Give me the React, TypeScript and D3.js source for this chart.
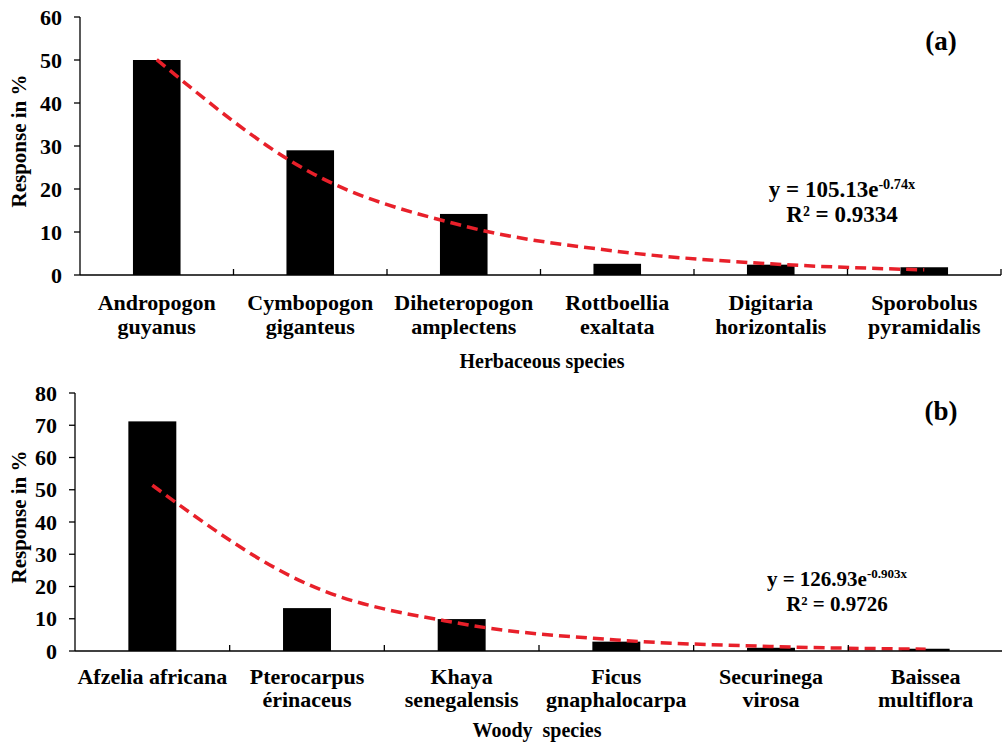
import * as d3 from 'd3';

// data — panel (a)
const herbCategories = [
  ['Andropogon', 'guyanus'],
  ['Cymbopogon', 'giganteus'],
  ['Diheteropogon', 'amplectens'],
  ['Rottboellia', 'exaltata'],
  ['Digitaria', 'horizontalis'],
  ['Sporobolus', 'pyramidalis'],
];
const herbValues = [50, 29, 14.2, 2.6, 2.4, 1.8];
const herbTrend = [50.1, 23.9, 11.4, 5.5, 2.6, 1.2];
const herbTicks = [0, 10, 20, 30, 40, 50, 60];

// data — panel (b)
const woodyCategories = [
  ['Afzelia africana'],
  ['Pterocarpus', 'érinaceus'],
  ['Khaya', 'senegalensis'],
  ['Ficus', 'gnaphalocarpa'],
  ['Securinega', 'virosa'],
  ['Baissea', 'multiflora'],
];
const woodyValues = [71.2, 13.3, 9.9, 2.9, 1.0, 0.7];
const woodyTrend = [51.4, 20.8, 8.45, 3.43, 1.39, 0.56];
const woodyTicks = [0, 10, 20, 30, 40, 50, 60, 70, 80];

const FONT = '"Liberation Serif", "Times New Roman", serif';

interface PanelProps {
  categories: string[][];
  values: number[];
  trend: number[];
  ticks: number[];
  x0: number;
  x1: number;
  yTop: number;
  yBottom: number;
  labelY: number;
  lineGap: number;
  title: string;
  titleX: number;
  titleY: number;
  tag: string;
  tagY: number;
  eq: [string, string, string];
  eqX: number;
  eqY: number;
  eqSize: number;
}

const Panel = (p: PanelProps) => {
  const x = d3
    .scaleBand<number>()
    .domain(p.categories.map((_, i) => i))
    .range([p.x0, p.x1])
    .paddingInner(0.69)
    .paddingOuter(0.345);
  const step = x.step();
  const cx = (i: number) => (x(i) as number) + x.bandwidth() / 2;
  const y = d3
    .scaleLinear()
    .domain([0, p.ticks[p.ticks.length - 1]])
    .range([p.yBottom, p.yTop]);

  const line = d3
    .line<number>()
    .x((_, i) => cx(i))
    .y(d => y(d))
    .curve(d3.curveMonotoneX);

  const bounds = d3.range(1, p.categories.length + 1).map(i => p.x0 + i * step);

  return (
    <g fontFamily={FONT} fontWeight="bold" fill="#000">
      {p.values.map((v, i) => (
        <rect key={i} x={x(i)} y={y(v)} width={x.bandwidth()} height={y(0) - y(v)} fill="#000" />
      ))}
      <path d={line(p.trend) || ''} fill="none" stroke="#e8202a" strokeWidth={3.5} strokeDasharray="11 6" />
      {/* y axis */}
      <line x1={p.x0} x2={p.x0} y1={p.yTop} y2={p.yBottom} stroke="#000" strokeWidth={1.3} />
      {p.ticks.map(t => (
        <g key={t}>
          <line x1={p.x0 - 6} x2={p.x0} y1={y(t)} y2={y(t)} stroke="#000" strokeWidth={1.3} />
          <text x={p.x0 - 18} y={y(t)} dy="0.35em" textAnchor="end" fontSize={22}>
            {t}
          </text>
        </g>
      ))}
      <text
        transform={`translate(26, ${(p.yTop + p.yBottom) / 2 - 5}) rotate(-90)`}
        textAnchor="middle"
        fontSize={21}
      >
        Response in %
      </text>
      {/* x axis */}
      <line x1={p.x0} x2={p.x1} y1={p.yBottom} y2={p.yBottom} stroke="#000" strokeWidth={1.3} />
      {bounds.map((b, i) => (
        <line key={i} x1={b} x2={b} y1={p.yBottom - 6} y2={p.yBottom} stroke="#000" strokeWidth={1.3} />
      ))}
      {p.categories.map((c, i) => (
        <text key={i} x={cx(i)} y={p.labelY} textAnchor="middle" fontSize={22}>
          {c.map((s, j) => (
            <tspan key={j} x={cx(i)} dy={j === 0 ? 0 : p.lineGap}>
              {s}
            </tspan>
          ))}
        </text>
      ))}
      <text x={p.titleX} y={p.titleY} textAnchor="middle" fontSize={20} style={{ whiteSpace: 'pre' }}>
        {p.title}
      </text>
      <text x={941} y={p.tagY} textAnchor="middle" fontSize={27}>
        {p.tag}
      </text>
      <text x={p.eqX} y={p.eqY} textAnchor="middle" fontSize={p.eqSize}>
        {p.eq[0]}
        <tspan dy={-8} fontSize={p.eqSize * 0.62}>
          {p.eq[1]}
        </tspan>
      </text>
      <text x={p.eqX} y={p.eqY + 25} textAnchor="middle" fontSize={p.eqSize}>
        {p.eq[2]}
      </text>
    </g>
  );
};

export default function App() {
  return (
    <svg
      width={1002}
      height={743}
      style={{ position: 'absolute', left: 0, top: 0, background: '#fff' }}
    >
      <rect width={1002} height={743} fill="#fff" />
      <Panel
        categories={herbCategories}
        values={herbValues}
        trend={herbTrend}
        ticks={herbTicks}
        x0={80}
        x1={1001}
        yTop={17}
        yBottom={275}
        labelY={310}
        lineGap={24}
        title="Herbaceous species"
        titleX={542}
        titleY={368}
        tag="(a)"
        tagY={50}
        eq={['y = 105.13e', '-0.74x', 'R² = 0.9334']}
        eqX={842}
        eqY={197}
        eqSize={23}
      />
      <Panel
        categories={woodyCategories}
        values={woodyValues}
        trend={woodyTrend}
        ticks={woodyTicks}
        x0={75}
        x1={1003}
        yTop={393}
        yBottom={651}
        labelY={684}
        lineGap={23}
        title="Woody  species"
        titleX={537}
        titleY={737}
        tag="(b)"
        tagY={420}
        eq={['y = 126.93e', '-0.903x', 'R² = 0.9726']}
        eqX={837}
        eqY={586}
        eqSize={21}
      />
    </svg>
  );
}
